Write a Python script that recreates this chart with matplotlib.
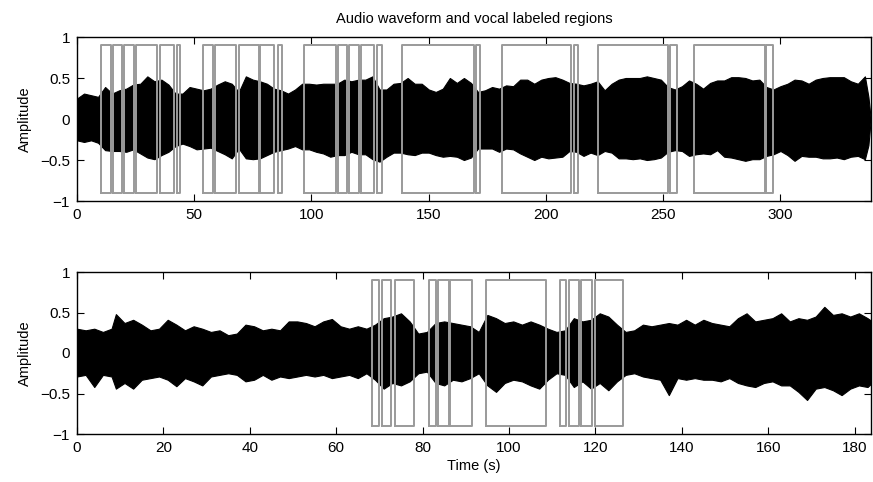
import matplotlib
matplotlib.use("Agg")
import matplotlib.pyplot as plt

plt.rcParams['font.family'] = ['Liberation Sans', 'DejaVu Sans']

# ---- Top recording: waveform envelope (seconds, amplitude)
top_t = [0, 3, 6, 9, 12, 15, 18, 21, 24, 27, 30, 33, 36, 39, 42, 45, 48, 51, 54, 57, 60, 63, 66,
         69, 72, 75, 78, 81, 84, 87, 90, 93, 96, 99, 102, 105, 108, 111, 114, 117, 120, 123,
         126, 129, 132, 135,
         138, 141, 144, 147, 150, 153, 156, 159, 162, 165, 168, 171, 174, 177, 180, 183, 186,
         189, 192, 195, 198, 201,
         204, 207, 210, 213, 216, 219, 222, 225, 228, 231, 234, 237, 240, 243, 246, 249, 252,
         255, 258, 261, 264, 267, 270,
         273, 276, 279, 282, 285, 288, 291, 294, 297, 300, 303, 306, 309, 312, 315, 318, 321,
         324, 327, 330, 333, 336, 337.5, 338.5]
top_upper = [0.25, 0.31, 0.29, 0.27, 0.39, 0.31, 0.35, 0.37, 0.42, 0.43, 0.52, 0.46, 0.48,
             0.42, 0.31, 0.31, 0.39, 0.37, 0.35, 0.37, 0.42, 0.46, 0.43,
             0.33, 0.52, 0.48, 0.46, 0.43, 0.37, 0.35, 0.31, 0.36, 0.43, 0.43, 0.42, 0.43,
             0.43, 0.43, 0.48, 0.46, 0.48, 0.48, 0.52, 0.36, 0.36, 0.43,
             0.44, 0.50, 0.43, 0.43, 0.36, 0.33, 0.37, 0.50, 0.44, 0.50, 0.44, 0.33, 0.35,
             0.39, 0.37, 0.41, 0.40, 0.48, 0.48, 0.43, 0.48, 0.50,
             0.51, 0.48, 0.44, 0.43, 0.41, 0.43, 0.46, 0.35, 0.43, 0.48, 0.50, 0.50, 0.50,
             0.52, 0.50, 0.48, 0.39, 0.36, 0.40, 0.47, 0.43, 0.37, 0.44,
             0.47, 0.47, 0.51, 0.51, 0.50, 0.47, 0.48, 0.39, 0.36, 0.40, 0.43, 0.48, 0.47,
             0.43, 0.48, 0.50, 0.51, 0.51, 0.51, 0.46, 0.43, 0.52, 0.27, 0.0]
top_lower = [-0.26, -0.28, -0.26, -0.29, -0.38, -0.39, -0.39, -0.40, -0.37, -0.42, -0.47,
             -0.49, -0.44, -0.40, -0.33, -0.30, -0.33, -0.37, -0.36, -0.35, -0.39, -0.43, -0.48,
             -0.36, -0.48, -0.49, -0.48, -0.44, -0.40, -0.38, -0.36, -0.33, -0.37, -0.37,
             -0.40, -0.42, -0.46, -0.44, -0.44, -0.40, -0.43, -0.43, -0.49, -0.52, -0.46, -0.41,
             -0.41, -0.43, -0.44, -0.41, -0.41, -0.44, -0.46, -0.45, -0.46, -0.50, -0.47,
             -0.36, -0.36, -0.36, -0.40, -0.36, -0.37, -0.42, -0.46, -0.50, -0.46, -0.48,
             -0.47, -0.46, -0.39, -0.40, -0.45, -0.41, -0.44, -0.39, -0.41, -0.48, -0.48,
             -0.49, -0.48, -0.50, -0.49, -0.47, -0.40, -0.38, -0.39, -0.45, -0.43, -0.42, -0.43,
             -0.38, -0.46, -0.47, -0.49, -0.51, -0.49, -0.49, -0.45, -0.43, -0.39, -0.44,
             -0.51, -0.45, -0.46, -0.46, -0.48, -0.48, -0.47, -0.49, -0.46, -0.45, -0.49,
             -0.32, 0.0]
top_xmax = 338.6
top_starts = [10.3, 15.2, 20.2, 25.1, 35.2, 42.6, 53.7, 58.7, 68.9, 78.2, 85.6, 96.6,
              111.3, 116.0, 121.0, 127.9, 138.8, 170.2, 181.1, 211.8, 222.3, 253.0,
              263.3, 294.0]
top_ends = [14.4, 19.4, 24.1, 34.0, 41.5, 44.0, 58.0, 67.8, 77.5, 84.2, 87.4, 110.3,
            115.1, 120.2, 126.6, 129.9, 169.1, 171.9, 210.5, 213.5, 252.1, 255.7,
            293.3, 296.8]

# ---- Bottom recording
bot_t = [0, 2, 4, 6, 8, 9, 11, 13, 15, 17, 19, 21, 23, 25, 27, 29, 31, 33, 35, 37, 39, 41,
         43, 45, 47, 49, 51, 53, 55, 57, 59, 61, 63, 65,
         67, 69, 71, 73, 75, 77, 79, 81, 83, 85, 87, 89, 91, 93, 95, 97, 99, 101, 103, 105,
         107, 109, 111, 113, 115, 117, 119, 121, 123, 125, 127, 129,
         131, 133, 135, 137, 139, 141, 143, 145, 147, 149, 151, 153, 155, 157, 159, 161, 163,
         165, 167, 169, 171, 173, 175, 177, 179, 181, 183, 183.8]
bot_upper = [0.30, 0.28, 0.30, 0.26, 0.30, 0.48, 0.37, 0.41, 0.35, 0.28, 0.30, 0.41, 0.35,
             0.28, 0.33, 0.30, 0.26, 0.28, 0.22, 0.24, 0.35, 0.33, 0.28, 0.30, 0.28, 0.39,
             0.39, 0.37, 0.33, 0.39, 0.42, 0.33, 0.30, 0.33,
             0.30, 0.35, 0.43, 0.45, 0.49, 0.39, 0.24, 0.26, 0.37, 0.39, 0.37, 0.35, 0.33,
             0.26, 0.47, 0.43, 0.37, 0.39, 0.35, 0.39, 0.35, 0.30, 0.26, 0.28, 0.43, 0.39,
             0.41, 0.49, 0.45, 0.35, 0.26, 0.28,
             0.35, 0.33, 0.35, 0.37, 0.35, 0.41, 0.35, 0.41, 0.37, 0.35, 0.33, 0.43, 0.49,
             0.39, 0.41, 0.43, 0.49, 0.39, 0.43, 0.41, 0.45, 0.57, 0.47, 0.49, 0.45, 0.49,
             0.43, 0.40]
bot_lower = [-0.29, -0.27, -0.42, -0.27, -0.29, -0.44, -0.37, -0.44, -0.33, -0.31, -0.29,
             -0.33, -0.41, -0.31, -0.35, -0.40, -0.29, -0.27, -0.25, -0.27, -0.35, -0.33,
             -0.27, -0.33, -0.29, -0.31, -0.29, -0.27, -0.29, -0.27, -0.31, -0.29, -0.27, -0.31,
             -0.25, -0.33, -0.44, -0.37, -0.40, -0.35, -0.25, -0.23, -0.37, -0.40, -0.33,
             -0.35, -0.31, -0.25, -0.40, -0.48, -0.37, -0.33, -0.35, -0.40, -0.44, -0.33,
             -0.25, -0.27, -0.42, -0.35, -0.44, -0.37, -0.46, -0.35, -0.27, -0.25,
             -0.29, -0.31, -0.33, -0.52, -0.31, -0.33, -0.31, -0.33, -0.33, -0.35, -0.31,
             -0.37, -0.40, -0.42, -0.37, -0.35, -0.40, -0.40, -0.48, -0.58, -0.44, -0.42,
             -0.46, -0.52, -0.44, -0.40, -0.42, -0.38]
bot_xmax = 183.8
bot_starts = [68.3, 70.5, 73.5, 81.4, 83.6, 86.4, 94.7, 111.8, 114.0, 116.7, 120.0]
bot_ends = [69.8, 72.8, 77.9, 83.0, 86.1, 91.4, 108.6, 113.3, 116.1, 119.1, 126.3]

rect_top = 0.9
rect_bottom = -0.9
yticks = [-1, -0.5, 0, 0.5, 1]
yticklabels = ['\u22121', '\u22120.5', '0', '0.5', '1']

fig = plt.figure(figsize=(8.73, 4.82), dpi=100)
ax1 = fig.add_axes([77/873, 1-201/482, 794/873, 164/482])
ax2 = fig.add_axes([77/873, 1-434/482, 794/873, 162/482])

def draw(ax, t, up, lo, starts, ends, xmax, xticks):
    ax.fill_between(t, lo, up, color='black', linewidth=0.8, edgecolor='black')
    for s, e in zip(starts, ends):
        ax.plot([s, s, e, e, s], [rect_bottom, rect_top, rect_top, rect_bottom, rect_bottom],
                color='#9a9a9a', linewidth=1.4)
    ax.set_xlim(0, xmax)
    ax.set_ylim(-1, 1)
    ax.set_yticks(yticks)
    ax.set_yticklabels(yticklabels)
    ax.set_xticks(xticks)
    ax.tick_params(direction='in', length=5, width=0.8, top=True, right=True,
                   labelsize=11, pad=5)
    for sp in ax.spines.values():
        sp.set_linewidth(1.0)
    ax.set_ylabel('Amplitude', fontsize=10.5, labelpad=6)

draw(ax1, top_t, top_upper, top_lower, top_starts, top_ends, top_xmax,
     [0, 50, 100, 150, 200, 250, 300])
draw(ax2, bot_t, bot_upper, bot_lower, bot_starts, bot_ends, bot_xmax,
     [0, 20, 40, 60, 80, 100, 120, 140, 160, 180])
ax1.set_title('Audio waveform and vocal labeled regions', fontsize=10.5, pad=10)
ax2.set_xlabel('Time (s)', fontsize=10.5, labelpad=3)

fig.savefig('out.png', dpi=100)
